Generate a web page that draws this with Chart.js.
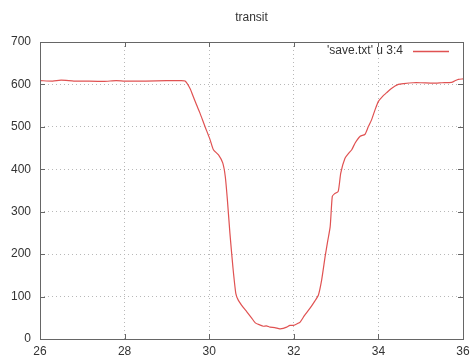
<!DOCTYPE html>
<html>
<head>
<meta charset="utf-8">
<script src="https://cdn.jsdelivr.net/npm/chart.js@4"></script>
<style>
  html, body { margin: 0; padding: 0; background: #fff; }
  #wrap { width: 470px; height: 358px; }
</style>
</head>
<body>
<div id="wrap"><canvas id="transitChart"></canvas></div>
<script>
const chartTitle = "transit";
const seriesLabel = "'save.txt' u 3:4";

const xs = [26, 26.3, 26.5, 26.8, 27.0, 27.5, 27.8, 28.0, 28.5, 29.0,
  29.3, 29.43, 29.55, 29.62, 29.7, 29.78, 29.9, 30.02, 30.1, 30.22,
  30.32, 30.38, 30.43, 30.49, 30.56, 30.63, 30.69, 30.8, 30.89, 31.0,
  31.09, 31.2, 31.28, 31.35, 31.44, 31.55, 31.67, 31.75, 31.83, 31.91,
  31.99, 32.08, 32.15, 32.25, 32.38, 32.5, 32.58, 32.66, 32.74, 32.8,
  32.86, 32.91, 32.96, 33.05, 33.11, 33.21, 33.3, 33.37, 33.45, 33.57,
  33.68, 33.76, 33.84, 33.92, 34.0, 34.1, 34.19, 34.3, 34.47, 34.6,
  34.82, 35.0, 35.3, 35.5, 35.73, 35.8, 35.89, 36.0];
const ys = [609, 608, 610, 608, 608, 607, 609, 608, 608, 609,
  609, 608, 590, 572, 552, 533, 501, 470, 446, 434,
  415, 383, 328, 249, 170, 107, 91, 75, 64, 50,
  38, 33, 30, 31, 28, 27, 24, 25, 28, 32,
  32, 36, 40, 55, 72, 90, 103, 140, 194, 230,
  265, 336, 342, 348, 391, 426, 438, 446, 462, 478,
  482, 500, 517, 540, 560, 572, 580, 590, 600, 602,
  604, 604, 603, 604, 605, 608, 612, 613];

const xTicks = [26, 28, 30, 32, 34, 36];
const yTicks = [0, 100, 200, 300, 400, 500, 600, 700];

const lineColor = "rgb(224, 82, 82)";
const textColor = "#333";
const fontFam = "'Liberation Sans', Arial, sans-serif";

// gnuplot-ish frame, inward ticks, title and key
const gnuFrame = {
  id: "gnuFrame",
  afterDraw(chart) {
    const { ctx, chartArea: a, scales } = chart;
    ctx.save();
    ctx.strokeStyle = "#666";
    ctx.lineWidth = 1;
    ctx.strokeRect(Math.round(a.left) + 0.5, Math.round(a.top) + 0.5,
      Math.round(a.right - a.left), Math.round(a.bottom - a.top));
    ctx.beginPath();
    xTicks.forEach(v => {
      const px = Math.round(scales.x.getPixelForValue(v)) + 0.5;
      ctx.moveTo(px, a.bottom); ctx.lineTo(px, a.bottom - 5);
      ctx.moveTo(px, a.top); ctx.lineTo(px, a.top + 5);
    });
    yTicks.forEach(v => {
      const py = Math.round(scales.y.getPixelForValue(v)) + 0.5;
      ctx.moveTo(a.left, py); ctx.lineTo(a.left + 5, py);
      ctx.moveTo(a.right, py); ctx.lineTo(a.right - 5, py);
    });
    ctx.stroke();

    ctx.fillStyle = textColor;
    ctx.font = "12px " + fontFam;
    ctx.textBaseline = "middle";
    ctx.textAlign = "center";
    ctx.fillText(chartTitle, (a.left + a.right) / 2, 18);

    const ly = Math.round(a.top + 9);
    ctx.textAlign = "right";
    ctx.fillText(seriesLabel, a.right - 60, ly);
    ctx.strokeStyle = lineColor;
    ctx.lineWidth = 1.3;
    ctx.beginPath();
    ctx.moveTo(a.right - 50, ly + 0.5);
    ctx.lineTo(a.right - 14, ly + 0.5);
    ctx.stroke();
    ctx.restore();
  }
};

new Chart(document.getElementById("transitChart"), {
  type: "line",
  data: {
    datasets: [{
      label: seriesLabel,
      data: xs.map((x, i) => ({ x: x, y: ys[i] })),
      borderColor: lineColor,
      borderWidth: 1.2,
      pointRadius: 0,
      tension: 0.2,
      fill: false
    }]
  },
  options: {
    responsive: true,
    maintainAspectRatio: false,
    animation: false,
    layout: { padding: { top: 42, right: 0, left: 0, bottom: 0 } },
    plugins: {
      legend: { display: false },
      title: { display: false },
      tooltip: { enabled: false }
    },
    scales: {
      x: {
        type: "linear",
        min: 26,
        max: 36,
        afterBuildTicks: s => { s.ticks = xTicks.map(v => ({ value: v })); },
        afterFit: s => { s.height = 19; s.paddingLeft = 0; s.paddingRight = 7; },
        grid: { color: "#b8b8b8", drawTicks: false },
        border: { display: false, dash: [1, 3] },
        ticks: { color: textColor, padding: 5, maxRotation: 0, font: { size: 12, family: fontFam } }
      },
      y: {
        min: 0,
        max: 700,
        afterBuildTicks: s => { s.ticks = yTicks.map(v => ({ value: v })); },
        afterFit: s => { s.width = 40; s.paddingTop = 0; s.paddingBottom = 0; },
        grid: { color: "#b8b8b8", drawTicks: false },
        border: { display: false, dash: [1, 3] },
        ticks: { color: textColor, padding: 9, font: { size: 12, family: fontFam } }
      }
    }
  },
  plugins: [gnuFrame]
});
</script>
</body>
</html>
